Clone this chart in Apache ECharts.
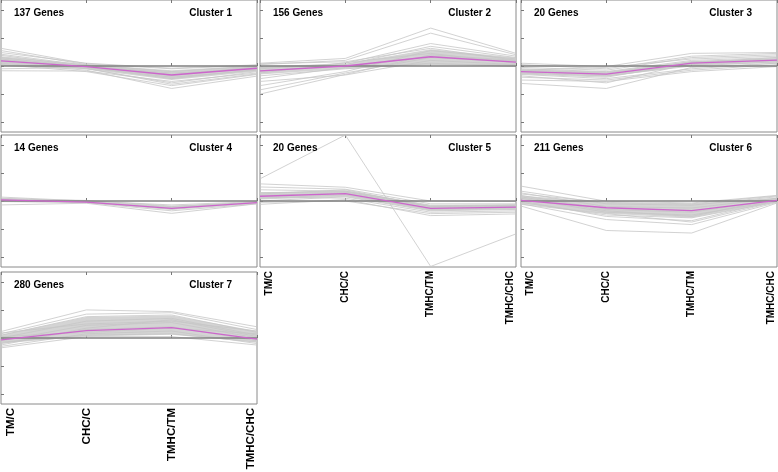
<!DOCTYPE html>
<html>
<head>
<meta charset="utf-8">
<script src="https://cdn.jsdelivr.net/npm/echarts@6/dist/echarts.min.js"></script>
<style>
  html, body { margin: 0; padding: 0; background: #fff; }
  .chart { width: 778px; height: 472px; }
</style>
</head>
<body>
<div class="chart"></div>
<script>
const categories = ['TM/C', 'CHC/C', 'TMHC/TM', 'TMHC/CHC'];
const geneCounts = [137, 156, 20, 14, 20, 211, 280];
const yTicks = [-2, -1, 0, 1, 2];

// cluster 1
const c1Mean = [0.18, -0.02, -0.32, -0.08];
const c1Lo = [0.0, -0.12, -0.5, -0.2];
const c1Hi = [0.35, 0.06, -0.15, 0.02];
const c1Genes = [
  [0.63, 0.08, -0.1, 0.03], [0.55, 0.05, -0.2, 0.0], [0.48, 0.1, -0.08, 0.04],
  [0.42, 0.02, -0.3, -0.05], [0.3, -0.05, -0.45, -0.12], [0.25, -0.1, -0.6, -0.2],
  [0.1, -0.15, -0.8, -0.36], [0.05, -0.2, -0.7, -0.3], [-0.17, -0.18, -0.55, -0.25],
  [-0.1, -0.05, -0.4, -0.15], [0.2, 0.0, -0.25, -0.1], [0.38, -0.02, -0.35, -0.02],
  [0.15, -0.08, -0.65, -0.28]
];

// cluster 2
const c2Mean = [-0.17, 0.0, 0.33, 0.14];
const c2Lo = [-0.3, -0.1, 0.05, 0.0];
const c2Hi = [0.0, 0.08, 0.6, 0.3];
const c2Genes = [
  [-1.0, -0.3, 0.4, 0.2], [-0.85, -0.25, 0.3, 0.15], [-0.7, -0.2, 0.55, 0.25],
  [-0.55, -0.32, 0.2, 0.05], [0.1, 0.27, 1.35, 0.45], [0.05, 0.2, 1.17, 0.4],
  [-0.1, 0.1, 0.8, 0.35], [-0.2, 0.05, 0.7, 0.3], [0.08, 0.15, 0.63, 0.2],
  [-0.35, -0.1, 0.1, -0.02], [-0.05, 0.0, 0.05, 0.05], [-0.25, 0.12, 0.45, 0.1],
  [-0.45, -0.05, 0.35, 0.18]
];

// cluster 3
const c3Mean = [-0.2, -0.29, 0.1, 0.21];
const c3Lo = [-0.28, -0.38, 0.02, 0.12];
const c3Hi = [-0.12, -0.2, 0.18, 0.28];
const c3Genes = [
  [0.1, -0.02, 0.45, 0.48], [0.05, -0.1, 0.35, 0.45], [-0.05, -0.15, 0.3, 0.4],
  [-0.1, -0.2, 0.2, 0.3], [-0.15, -0.25, 0.15, 0.25], [-0.2, -0.3, 0.05, 0.2],
  [-0.25, -0.35, 0.0, 0.15], [-0.3, -0.45, -0.1, 0.1], [-0.4, -0.5, -0.15, 0.05],
  [-0.5, -0.55, -0.2, -0.02], [-0.62, -0.8, -0.05, 0.1], [-0.35, -0.6, 0.1, 0.2],
  [-0.15, -0.05, 0.25, 0.35], [-0.28, -0.4, 0.12, 0.3]
];

// cluster 4
const c4Mean = [0.04, -0.04, -0.26, -0.06];
const c4Lo = [0.0, -0.06, -0.3, -0.08];
const c4Hi = [0.08, -0.02, -0.2, -0.04];
const c4Genes = [
  [0.14, 0.0, -0.14, -0.02], [0.1, -0.02, -0.2, -0.04], [0.06, -0.04, -0.25, -0.06],
  [0.02, -0.05, -0.3, -0.08], [-0.02, -0.06, -0.35, -0.1], [-0.14, -0.08, -0.44, -0.1],
  [0.08, 0.02, -0.18, -0.05]
];

// cluster 5
const c5Mean = [0.17, 0.26, -0.26, -0.22];
const c5Lo = [0.05, 0.15, -0.35, -0.3];
const c5Hi = [0.3, 0.38, -0.15, -0.12];
const c5Genes = [
  [0.79, 2.35, -2.33, -1.17], [0.61, 0.49, 0.0, -0.02], [0.5, 0.42, -0.1, -0.1],
  [0.4, 0.35, -0.15, -0.15], [0.3, 0.32, -0.2, -0.2], [0.2, 0.28, -0.25, -0.22],
  [0.1, 0.22, -0.3, -0.25], [0.0, 0.15, -0.35, -0.3], [-0.12, 0.05, -0.52, -0.46],
  [-0.05, 0.0, -0.45, -0.4], [0.15, 0.1, -0.4, -0.35], [0.25, 0.4, -0.2, -0.15]
];

// cluster 6
const c6Mean = [0.02, -0.24, -0.34, 0.02];
const c6Lo = [-0.1, -0.45, -0.6, -0.03];
const c6Hi = [0.2, -0.05, -0.1, 0.12];
const c6Genes = [
  [0.53, -0.01, -0.07, 0.2], [0.35, -0.1, -0.15, 0.15], [0.29, -0.2, -0.25, 0.1],
  [0.2, -0.3, -0.4, 0.05], [0.1, -0.4, -0.5, 0.0], [-0.05, -0.5, -0.6, -0.03],
  [-0.18, -1.05, -1.14, -0.07], [-0.1, -0.66, -0.84, -0.05], [0.0, -0.55, -0.7, 0.02],
  [0.15, -0.35, -0.55, 0.1], [-0.12, -0.45, -0.75, -0.02], [0.25, -0.05, -0.1, 0.18]
];

// cluster 7
const c7Mean = [-0.07, 0.26, 0.37, -0.04];
const c7Lo = [-0.2, 0.05, 0.12, -0.15];
const c7Hi = [0.12, 0.75, 0.8, 0.25];
const c7Genes = [
  [0.23, 1.0, 0.94, 0.4], [0.15, 0.85, 0.9, 0.3], [0.1, 0.76, 0.82, 0.2],
  [0.0, 0.6, 0.7, 0.1], [-0.1, 0.45, 0.55, 0.0], [-0.2, 0.3, 0.4, -0.1],
  [-0.3, 0.15, 0.25, -0.2], [-0.35, 0.05, 0.05, -0.25], [0.05, 0.2, 0.35, 0.15],
  [-0.15, 0.1, 0.15, -0.15], [0.18, 0.5, 0.6, 0.25], [-0.25, 0.35, 0.65, 0.05]
];

const means = [c1Mean, c2Mean, c3Mean, c4Mean, c5Mean, c6Mean, c7Mean];
const lows = [c1Lo, c2Lo, c3Lo, c4Lo, c5Lo, c6Lo, c7Lo];
const highs = [c1Hi, c2Hi, c3Hi, c4Hi, c5Hi, c6Hi, c7Hi];
const genes = [c1Genes, c2Genes, c3Genes, c4Genes, c5Genes, c6Genes, c7Genes];

(function () {
  let myChart = echarts.init(document.querySelector('.chart'));

  const colLeft = [1, 260, 521];
  const rowTop = [0, 135, 272];
  const panelW = 256;
  const panelH = 132;

  let grid = [], xAxis = [], yAxis = [], series = [], title = [];

  for (let i = 0; i < 7; i++) {
    const col = i % 3, row = Math.floor(i / 3);
    const left = colLeft[col], top = rowTop[row];
    const showLabels = i >= 4;
    const labelSize = i === 6 ? 11.5 : 10;

    grid.push({
      left: left, top: top, width: panelW, height: panelH,
      outerBoundsMode: 'none', containLabel: false,
      show: true, borderColor: '#8a8a8a', borderWidth: 1, backgroundColor: '#fff'
    });

    xAxis.push({
      type: 'category', gridIndex: i, data: categories, boundaryGap: false,
      axisLine: { show: false },
      axisTick: { show: true, inside: true, length: 3, lineStyle: { color: '#777' } },
      axisLabel: {
        show: showLabels, rotate: 90, margin: 4, color: '#000',
        fontSize: labelSize, fontWeight: 'bold', fontFamily: 'Liberation Sans, Arial',
        hideOverlap: false, interval: 0,
        // end labels are pushed inside the panel
        formatter: function (v, idx) {
          if (idx === 0) return '{first|' + v + '}';
          if (idx === categories.length - 1) return '{last|' + v + '}';
          return v;
        },
        rich: {
          first: { fontSize: labelSize, fontWeight: 'bold', color: '#000', fontFamily: 'Liberation Sans, Arial', padding: [19, 0, 0, 0] },
          last: { fontSize: labelSize, fontWeight: 'bold', color: '#000', fontFamily: 'Liberation Sans, Arial', padding: [0, 0, 12, 0] }
        }
      },
      splitLine: { show: false }
    });
    xAxis.push({
      type: 'category', gridIndex: i, data: categories, boundaryGap: false, position: 'top',
      axisLine: { show: false },
      axisTick: { show: true, inside: true, length: 3, lineStyle: { color: '#777' } },
      axisLabel: { show: false },
      splitLine: { show: false }
    });

    yAxis.push({
      type: 'value', gridIndex: i, min: -2.35, max: 2.35,
      axisLine: { show: false },
      axisTick: { show: true, inside: true, length: 3, customValues: yTicks, lineStyle: { color: '#777' } },
      axisLabel: { show: false },
      splitLine: { show: false }
    });

    // dense core of the profiles
    series.push({
      type: 'line', xAxisIndex: 2 * i, yAxisIndex: i, data: lows[i],
      stack: 'band' + i, stackStrategy: 'all', symbol: 'none', silent: true,
      lineStyle: { width: 0 }
    });
    series.push({
      type: 'line', xAxisIndex: 2 * i, yAxisIndex: i,
      data: highs[i].map((v, k) => v - lows[i][k]),
      stack: 'band' + i, stackStrategy: 'all', symbol: 'none', silent: true,
      lineStyle: { width: 0 },
      areaStyle: { color: '#cccccc', opacity: 0.85 }
    });

    genes[i].forEach(function (g) {
      series.push({
        type: 'line', xAxisIndex: 2 * i, yAxisIndex: i, data: g,
        symbol: 'none', silent: true,
        lineStyle: { color: '#c6c6c6', width: 0.8 }
      });
    });

    series.push({
      type: 'line', xAxisIndex: 2 * i, yAxisIndex: i, data: [0, 0, 0, 0],
      symbol: 'none', silent: true,
      lineStyle: { color: '#808080', width: 1.5 }
    });

    series.push({
      type: 'line', xAxisIndex: 2 * i, yAxisIndex: i, data: means[i],
      symbol: 'none', silent: true,
      lineStyle: { color: '#cc66cc', width: 1.3 }
    });

    const tStyle = { fontSize: 10, fontWeight: 'bold', color: '#000', fontFamily: 'Liberation Sans, Arial' };
    title.push({
      text: geneCounts[i] + ' Genes', left: left + 13, top: top + 8, padding: 0, textStyle: tStyle
    });
    title.push({
      text: 'Cluster ' + (i + 1), right: 778 - (left + panelW) + 25, top: top + 8, padding: 0, textStyle: tStyle
    });
  }

  let option = {
    animation: false,
    backgroundColor: '#fff',
    title: title,
    grid: grid,
    xAxis: xAxis,
    yAxis: yAxis,
    series: series
  };

  myChart.setOption(option);
})();
</script>
</body>
</html>
